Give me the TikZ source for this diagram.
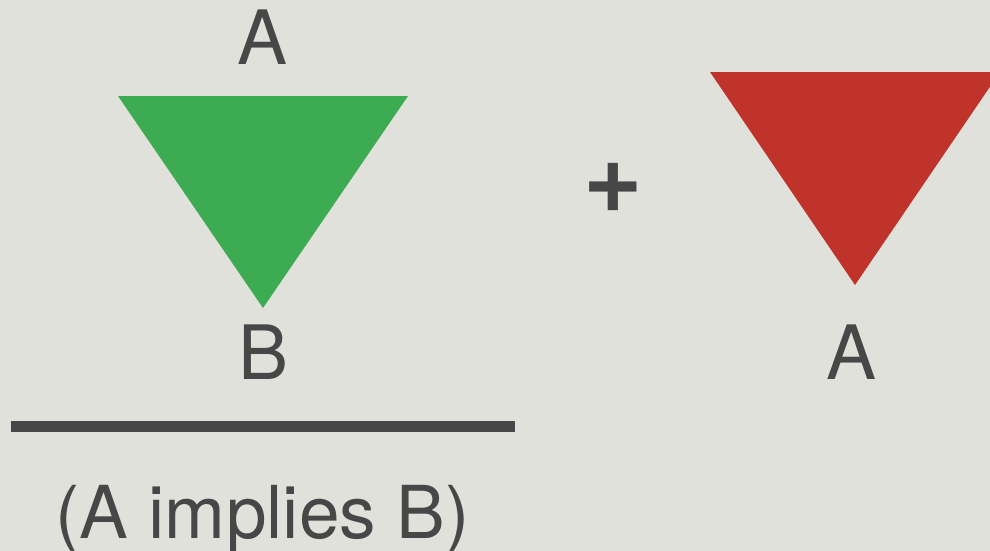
\documentclass[tikz,border=0pt]{standalone}
\usepackage{fontspec}
\setmainfont{TeX Gyre Heros}
\definecolor{bgcol}{HTML}{E1E1DC}
\definecolor{txtcol}{HTML}{474747}
\definecolor{greentri}{HTML}{3DAB52}
\definecolor{redtri}{HTML}{C0332B}
\tikzset{
  lbl/.style={anchor=base, inner sep=0pt, text=txtcol, font=\fontsize{75}{75}\selectfont},
  caplbl/.style={anchor=base, inner sep=0pt, text=txtcol, font=\fontsize{73}{73}\selectfont},
  plussign/.style={anchor=center, inner sep=0pt, text=txtcol, font=\fontsize{102}{102}\selectfont\bfseries},
  rule/.style={draw=txtcol, line width=11pt, line cap=butt},
}
\begin{document}
\begin{tikzpicture}[x=1pt,y=-1pt]
  \fill[bgcol] (0,0) rectangle (990,551);
  \useasboundingbox (0,0) rectangle (990,551);
  \clip (0,0) rectangle (990,551);
  % green triangle
  \fill[greentri] (118,96) -- (408,96) -- (263,308) -- cycle;
  % red triangle
  \fill[redtri] (710,72) -- (1000,72) -- (855,285) -- cycle;
  \node[lbl] (topA) at (262.5,64) {A};
  \node[lbl] (botB) at (263.5,379) {B};
  \node[lbl] (rightA) at (851.5,379) {A};
  \node[plussign] (plus) at (613,188) {+};
  \coordinate (ruleL) at (11,426.5);
  \coordinate (ruleR) at (515,426.5);
  \draw[rule] (ruleL) -- (ruleR);
  \node[caplbl] (caption) at (262.5,538) {(A implies B)};
\end{tikzpicture}
\end{document}
